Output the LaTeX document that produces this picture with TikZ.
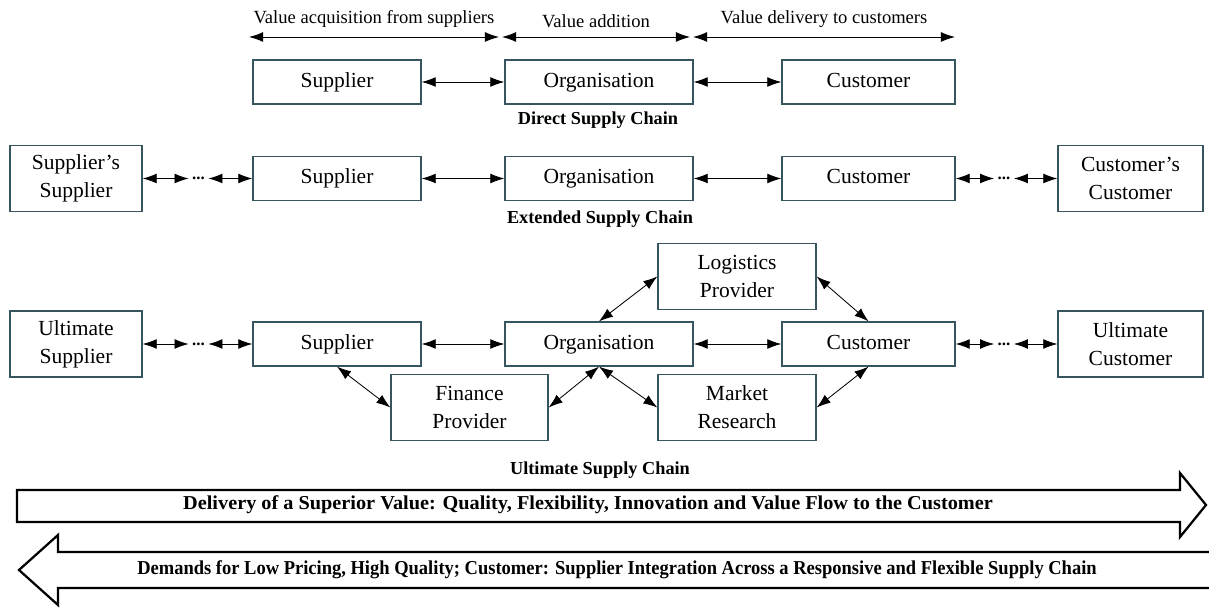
\documentclass[tikz,border=0pt]{standalone}
\usepackage{fontspec}
\setmainfont{Liberation Serif}
\usetikzlibrary{arrows.meta}
\definecolor{boxline}{RGB}{55,85,95}
\begin{document}
\begin{tikzpicture}[x=0.025cm,y=-0.025cm,
  cell/.style={draw=boxline,line width=0.9pt,fill=white,inner sep=0pt,align=center,font=\fontsize{15.3}{20}\selectfont},
  box/.style={cell,minimum height=1.1cm,text height=10.8pt,text depth=3.4pt},
  tall/.style={cell,minimum height=1.65cm},
  link/.style={{Latex[length=10pt,width=7pt]}-{Latex[length=10pt,width=7pt]},line width=0.6pt},
  gap/.style={inner sep=0pt,minimum width=0.48cm,font=\fontsize{12}{14}\selectfont\bfseries},
  span/.style={font=\fontsize{13.2}{15}\selectfont},
  title/.style={font=\fontsize{13}{15}\selectfont\bfseries},
  flow/.style={fill=white,line width=1.6pt},
  flowtext/.style={font=\fontsize{14}{16}\selectfont\bfseries}]
\useasboundingbox (0,0) rectangle (1209,609);
\coordinate (s0) at (249,37);
\coordinate (s1) at (499,37);
\coordinate (s2) at (502,37);
\coordinate (s3) at (690,37);
\coordinate (s4) at (693,37);
\coordinate (s5) at (955,37);
\draw[link] (s0) -- (s1) node[midway,above=3pt,span] {Value acquisition from suppliers};
\draw[link] (s2) -- (s3) node[midway,above=3pt,span] {Value addition};
\draw[link] (s4) -- (s5) node[midway,above=3pt,span] {Value delivery to customers};
\node[box,minimum width=4.2cm] (sup1) at (337,82) {Supplier};
\node[box,minimum width=4.7cm] (org1) at (599,82) {Organisation};
\node[box,minimum width=4.325cm] (cus1) at (868.5,82) {Customer};
\draw[link] (sup1) -- (org1);
\draw[link] (org1) -- (cus1);
\node[title] (direct) at (598,120) {Direct Supply Chain};
\node[tall,minimum width=3.3cm] (ss) at (76,178.5) {Supplier's\\Supplier};
\node[gap] (d2l) at (198.5,178.5) {...};
\node[box,minimum width=4.2cm] (sup2) at (337,178.5) {Supplier};
\node[box,minimum width=4.7cm] (org2) at (599,178.5) {Organisation};
\node[box,minimum width=4.325cm] (cus2) at (868.5,178.5) {Customer};
\node[gap] (d2r) at (1004,178.5) {...};
\node[tall,minimum width=3.625cm] (cc) at (1130.5,178.5) {Customer's\\Customer};
\draw[link] (ss) -- (d2l);
\draw[link] (d2l) -- (sup2);
\draw[link] (sup2) -- (org2);
\draw[link] (org2) -- (cus2);
\draw[link] (cus2) -- (d2r);
\draw[link] (d2r) -- (cc);
\node[title] (extended) at (600,219) {Extended Supply Chain};
\node[tall,minimum width=3.3cm] (us) at (76,344) {Ultimate\\Supplier};
\node[gap] (d3l) at (198.5,344) {...};
\node[box,minimum width=4.2cm] (sup3) at (337,344) {Supplier};
\node[box,minimum width=4.7cm] (org3) at (599,344) {Organisation};
\node[box,minimum width=4.325cm] (cus3) at (868.5,344) {Customer};
\node[gap] (d3r) at (1004,344) {...};
\node[tall,minimum width=3.625cm] (uc) at (1130.5,344) {Ultimate\\Customer};
\node[tall,minimum width=3.95cm] (log) at (737,276.5) {Logistics\\Provider};
\node[tall,minimum width=3.925cm] (fin) at (469.5,407.5) {Finance\\Provider};
\node[tall,minimum width=3.95cm] (mkt) at (737,407.5) {Market\\Research};
\draw[link] (us) -- (d3l);
\draw[link] (d3l) -- (sup3);
\draw[link] (sup3) -- (org3);
\draw[link] (org3) -- (cus3);
\draw[link] (cus3) -- (d3r);
\draw[link] (d3r) -- (uc);
\draw[link] (sup3.south) -- (fin.west);
\draw[link] (fin.east) -- (org3.south);
\draw[link] (org3.north) -- (log.west);
\draw[link] (log.east) -- (cus3.north);
\draw[link] (org3.south) -- (mkt.west);
\draw[link] (mkt.east) -- (cus3.south);
\node[title] (ultimate) at (600,470) {Ultimate Supply Chain};
\filldraw[flow] (17,490) -- (1180,490) -- (1180,473) -- (1206,505) -- (1180,537) -- (1180,522) -- (17,522) -- cycle;
\node[flowtext,xscale=1.03] (delivery) at (588,505) {Delivery of a Superior Value: Quality, Flexibility, Innovation and Value Flow to the Customer};
\filldraw[flow] (1212,552) -- (58,552) -- (58,535) -- (19,570) -- (58,605) -- (58,588) -- (1212,588);
\node[flowtext,xscale=0.94] (demands) at (617,570) {Demands for Low Pricing, High Quality; Customer: Supplier Integration Across a Responsive and Flexible Supply Chain};
\end{tikzpicture}
\end{document}
